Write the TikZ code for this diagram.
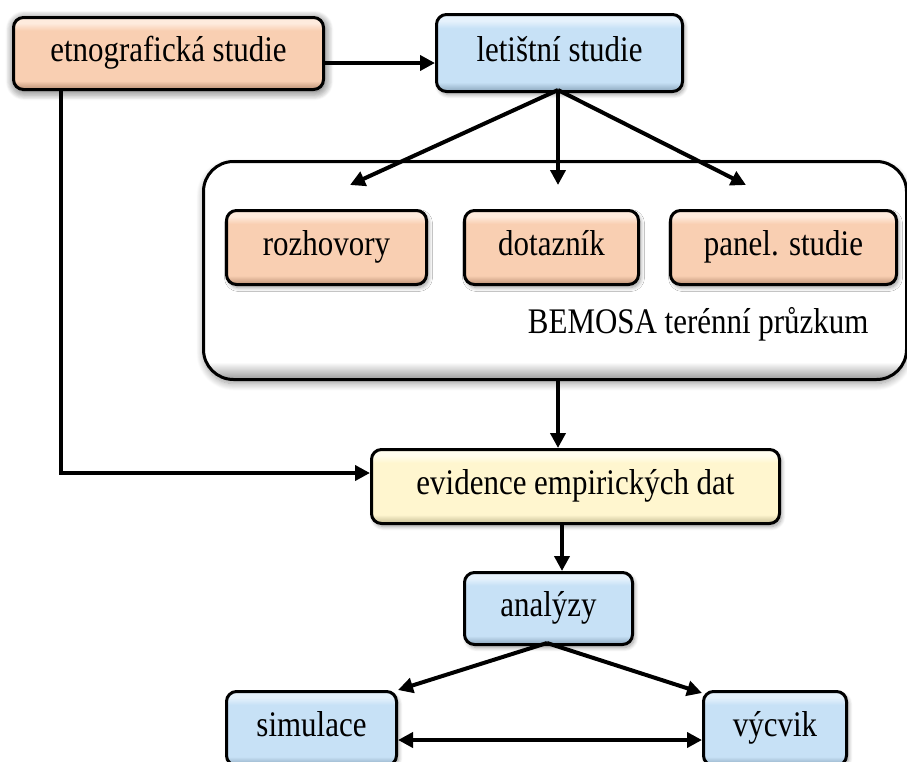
\documentclass[tikz,border=0pt]{standalone}
\usepackage{fontspec}
\setmainfont[FakeStretch=0.86]{Liberation Serif}
\usetikzlibrary{arrows.meta,shadows.blur}

\definecolor{peachL}{HTML}{FEEBDD}
\definecolor{peachM}{HTML}{F9CFB2}
\definecolor{peachD}{HTML}{B98E72}
\definecolor{blueL}{HTML}{E6F2FC}
\definecolor{blueM}{HTML}{C7E1F6}
\definecolor{blueD}{HTML}{8AA5BB}
\definecolor{yelL}{HTML}{FFFDEE}
\definecolor{yelM}{HTML}{FFF6CF}
\definecolor{yelD}{HTML}{C4BB93}
\definecolor{contD}{HTML}{9A9A9A}

% glossy vertical fills: dark bottom rim, flat body, light top rim
\pgfdeclareverticalshading{peachfill}{100bp}{color(0bp)=(peachD); color(25bp)=(peachD); color(31bp)=(peachM); color(66bp)=(peachM); color(71bp)=(peachL); color(100bp)=(peachL)}
\pgfdeclareverticalshading{bluefill}{100bp}{color(0bp)=(blueD); color(25bp)=(blueD); color(31bp)=(blueM); color(66bp)=(blueM); color(71bp)=(blueL); color(100bp)=(blueL)}
\pgfdeclareverticalshading{yelfill}{100bp}{color(0bp)=(yelD); color(25bp)=(yelD); color(31bp)=(yelM); color(66bp)=(yelM); color(71bp)=(yelL); color(100bp)=(yelL)}
% container: white with a soft grey rim at the bottom
\pgfdeclareverticalshading{contfill}{100bp}{color(0bp)=(contD); color(25bp)=(contD); color(29bp)=(white); color(100bp)=(white)}

\tikzset{
  box/.style={draw=black, line width=3pt, rounded corners=10pt,
    font=\fontsize{36}{40}\selectfont, text height=24pt, text depth=8pt,
    inner sep=0pt, anchor=north west,
    blur shadow={shadow xshift=2pt, shadow yshift=-3pt, shadow blur steps=8, shadow blur radius=4pt}},
  peachbox/.style={box, shading=peachfill},
  bluebox/.style={box, shading=bluefill},
  yelbox/.style={box, shading=yelfill},
  conn/.style={line width=4pt, -{Triangle[length=15pt,width=15pt]}},
  bothconn/.style={line width=4pt, {Triangle[length=15pt,width=15pt]}-{Triangle[length=15pt,width=15pt]}},
}

\begin{document}
\begin{tikzpicture}[x=1pt,y=-1pt]
\useasboundingbox (0,0) rectangle (907,761);

% field survey container
\node (field) [draw=black, line width=3pt, rounded corners=30pt, shading=contfill,
  minimum width=703pt, minimum height=218pt, anchor=north west, inner sep=0pt,
  blur shadow={shadow xshift=0pt, shadow yshift=-4pt, shadow blur steps=10, shadow blur radius=7pt}]
  at (202,160) {};
\node (bemosa) [anchor=base east, font=\fontsize{36}{40}\selectfont] at (872,333) {BEMOSA terénní průzkum};

\node (etno) [peachbox, minimum width=310pt, minimum height=72pt,
  blur shadow={shadow xshift=1pt, shadow yshift=-2pt, shadow blur steps=12, shadow blur radius=9pt}]
  at (12,16) {etnografická studie};
\node (leti) [bluebox, minimum width=246pt, minimum height=77pt] at (435,13) {letištní studie};

\node (roz) [peachbox, minimum width=200pt, minimum height=74pt] at (225,209) {rozhovory};
\node (dot) [peachbox, minimum width=174pt, minimum height=74pt] at (463,209) {dotazník};
\node (pan) [peachbox, minimum width=226pt, minimum height=74pt] at (669,209) {panel. studie};

\node (evid) [yelbox, minimum width=408pt, minimum height=74pt] at (370,448) {evidence empirických dat};
\node (anal) [bluebox, minimum width=168pt, minimum height=72pt] at (463,571) {analýzy};
\node (sim) [bluebox, minimum width=170pt, minimum height=74pt] at (225,690) {simulace};
\node (vyc) [bluebox, minimum width=143pt, minimum height=74pt] at (702,690) {výcvik};

% arrow end points inside the container
\coordinate (tRoz) at (350,185);
\coordinate (tDot) at (558,185);
\coordinate (tPan) at (746,185);
\coordinate (letiB) at (558,90);
\coordinate (analB) at (547,643);

% connectors
\draw[conn] (etno.east |- 0,63) -- (leti.west |- 0,63);
\draw[conn] (letiB) -- (tRoz);
\draw[conn] (letiB) -- (tDot);
\draw[conn] (letiB) -- (tPan);
\draw[conn] (etno.south -| 61,0) -- (61,473) -- (evid.west |- 0,473);
\draw[conn] (field.south -| 558,0) -- (evid.north -| 558,0);
\draw[conn] (evid.south -| 562,0) -- (anal.north -| 562,0);
\draw[conn] (analB) -- (sim.north east);
\draw[conn] (analB) -- ([yshift=-3pt]vyc.north west);
\draw[bothconn] (sim.east |- 0,740) -- (vyc.west |- 0,740);
\end{tikzpicture}
\end{document}
